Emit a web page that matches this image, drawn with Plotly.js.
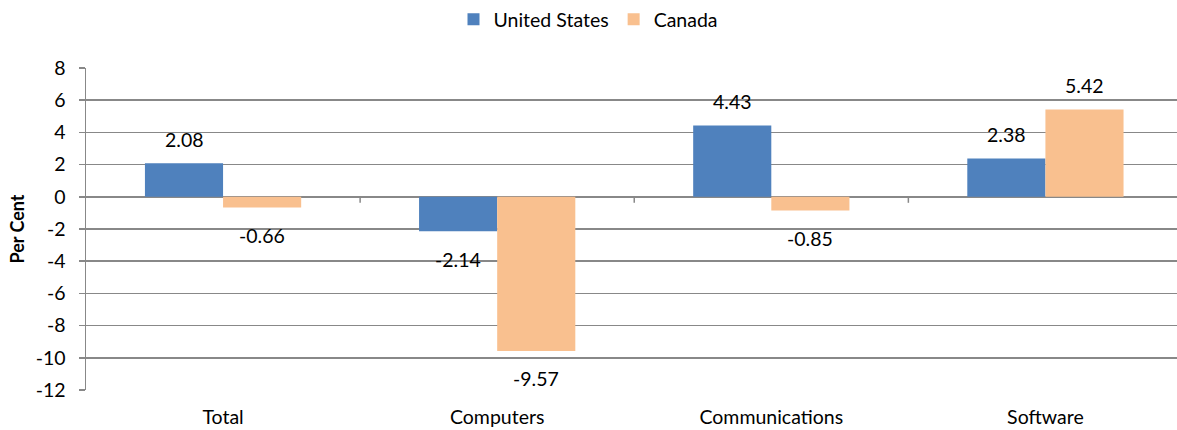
<!DOCTYPE html>
<html>
<head>
<meta charset="utf-8">
<script src="https://cdn.plot.ly/plotly-3.0.1.min.js"></script>
<style>html,body{margin:0;padding:0;background:#fff;}#chart{width:1177px;height:430px;}</style>
</head>
<body>
<div id="chart"></div>
<script>
const categories = ["Total", "Computers", "Communications", "Software"];
const usValues = [2.08, -2.14, 4.43, 2.38];
const caValues = [-0.66, -9.57, -0.85, 5.42];
const seriesNames = ["United States", "Canada"];
const seriesColors = ["#4F81BD", "#F9C08F"];
const yTicks = [8, 6, 4, 2, 0, -2, -4, -6, -8, -10, -12];

const FONT = "Lato, 'Open Sans', sans-serif";
const FS = 19.5;
const bargap = 0.43;
const half = (1 - bargap) / 4;

const traces = [usValues, caValues].map((vals, k) => ({
  type: "bar",
  name: seriesNames[k],
  x: categories,
  y: vals,
  marker: {color: seriesColors[k]},
  hoverinfo: "skip"
}));

const annotations = [];
[usValues, caValues].forEach((vals, k) => {
  vals.forEach((v, i) => {
    annotations.push({
      x: i + (k === 0 ? -half : half),
      y: v,
      xref: "x", yref: "y",
      text: v.toFixed(2),
      showarrow: false,
      yanchor: "middle",
      yshift: v >= 0 ? 24 : -28,
      font: {family: FONT, size: FS, color: "#000"}
    });
  });
});

const shapes = [];
for (let i = 0; i < categories.length - 1; i++) {
  shapes.push({
    type: "line", xref: "x", yref: "y",
    x0: i + 0.5, x1: i + 0.5,
    ysizemode: "pixel", yanchor: 0, y0: 0, y1: -6,
    line: {color: "#888", width: 1.5}
  });
}

const layout = {
  width: 1177, height: 430,
  margin: {l: 86, r: 0, t: 68, b: 40},
  paper_bgcolor: "#fff", plot_bgcolor: "#fff",
  barmode: "group", bargap: bargap, bargroupgap: 0,
  showlegend: true,
  legend: {
    orientation: "h", xref: "container", yref: "container",
    x: 0.5, xanchor: "center", y: 1, yanchor: "top",
    font: {family: FONT, size: FS, color: "#000"},
    itemwidth: 30, tracegroupgap: 0
  },
  xaxis: {
    type: "category",
    range: [-0.5, 3.48],
    showgrid: false, zeroline: false, showline: false,
    ticks: "", ticklabelstandoff: 13,
    tickfont: {family: FONT, size: FS, color: "#000"},
    fixedrange: true
  },
  yaxis: {
    range: [-12, 8],
    tickvals: yTicks,
    ticktext: yTicks.map(String),
    showgrid: true, gridcolor: "#888", gridwidth: 1.5,
    zeroline: true, zerolinecolor: "#888", zerolinewidth: 1.5,
    showline: true, linecolor: "#888", linewidth: 1.5,
    ticks: "outside", ticklen: 6, tickcolor: "#888", tickwidth: 1.5,
    ticklabelstandoff: 9,
    tickfont: {family: FONT, size: FS, color: "#000"},
    title: {text: "<b>Per Cent</b>", font: {family: FONT, size: 18, color: "#000"}, standoff: 6},
    fixedrange: true
  },
  annotations: annotations,
  shapes: shapes
};

Plotly.newPlot("chart", traces, layout, {displayModeBar: false, staticPlot: true});
</script>
</body>
</html>
